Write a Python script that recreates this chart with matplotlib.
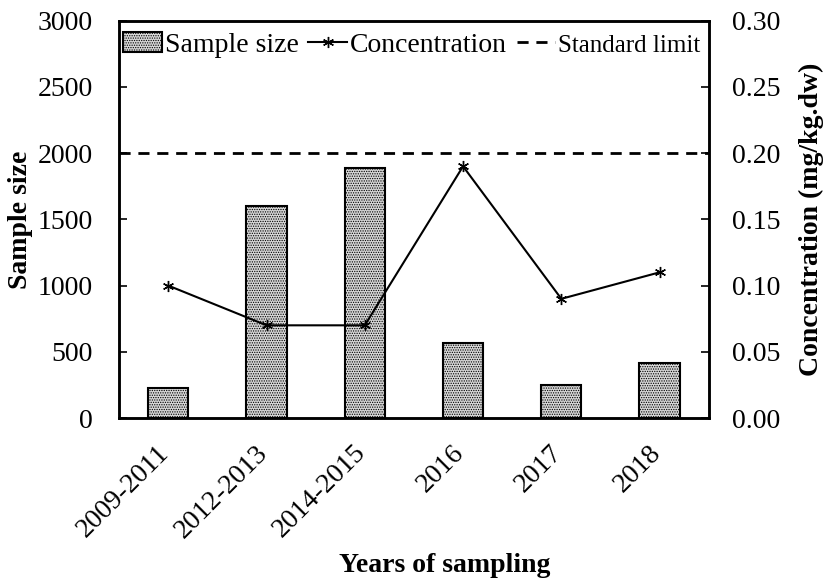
import matplotlib.pyplot as plt
import matplotlib.transforms as mtransforms
import numpy as np

plt.rcParams['font.family'] = ['Liberation Serif', 'DejaVu Serif']
plt.rcParams['hatch.color'] = '#8c8c8c'
plt.rcParams['hatch.linewidth'] = 0.6

years = ["2009-2011", "2012-2013", "2014-2015", "2016", "2017", "2018"]
sample_size = [230, 1600, 1890, 570, 250, 415]
concentration = [0.10, 0.07, 0.07, 0.19, 0.09, 0.11]
standard_limit = 0.20

x = np.arange(len(years))

fig = plt.figure(figsize=(8.27, 5.88), dpi=100)
ax = fig.add_axes([0.144, 0.289, 0.713, 0.676])
ax2 = ax.twinx()

bars = ax.bar(x, sample_size, width=0.41, facecolor='#d6d6d6', edgecolor='black',
              linewidth=1.5, hatch='.......', label='Sample size', zorder=2)
line, = ax2.plot(x, concentration, color='black', linewidth=1.5, marker=(6, 2, 0),
                 markersize=8, markeredgewidth=1.0, label='Concentration', zorder=3)
limit, = ax2.plot([-0.5, 5.5], [standard_limit, standard_limit], color='black',
                  linewidth=2, linestyle=(0, (4, 2.8)), label='Standard limit')

ax.set_xlim(-0.5, 5.5)
ax.set_ylim(0, 3000)
ax2.set_ylim(0, 0.30)
ax.set_yticks(np.arange(0, 3001, 500))
ax2.set_yticks(np.arange(0, 0.301, 0.05))
ax2.set_yticklabels([f"{v:.2f}" for v in np.arange(0, 0.301, 0.05)])

ax.set_xticks(x)
ax.set_xticklabels(years, rotation=45, ha='right')
ax.tick_params(axis='x', length=0, labelsize=20, pad=16)
ax.tick_params(axis='y', direction='in', length=6, width=1.2, labelsize=20, pad=19)
ax2.tick_params(axis='y', direction='in', length=6, width=1.2, labelsize=20, pad=17)

# nudge rotated year labels a little to the right
shift = mtransforms.ScaledTranslation(6 / 100, 0, fig.dpi_scale_trans)
for lbl in ax.get_xticklabels():
    lbl.set_transform(lbl.get_transform() + shift)

for a in (ax, ax2):
    for s in a.spines.values():
        s.set_linewidth(1.8)

ax.set_ylabel('Sample size', fontsize=20, fontweight='bold', labelpad=3)
ax2.set_ylabel('Concentration (mg/kg.dw)', fontsize=20, fontweight='bold', labelpad=13)
fig.text(445 / 827, 1 - 566 / 588, 'Years of sampling', fontsize=20, fontweight='bold',
         ha='center', va='center')

leg = ax.legend([bars, line, limit], ['Sample size', 'Concentration', 'Standard limit'],
                loc='upper left', bbox_to_anchor=(-0.017, 1.005), ncol=3, frameon=False,
                fontsize=20, handlelength=1.4, handletextpad=0.1, columnspacing=0.35,
                borderaxespad=0.1)
leg.get_texts()[2].set_fontsize(18)

fig.savefig('out.png', dpi=100)
